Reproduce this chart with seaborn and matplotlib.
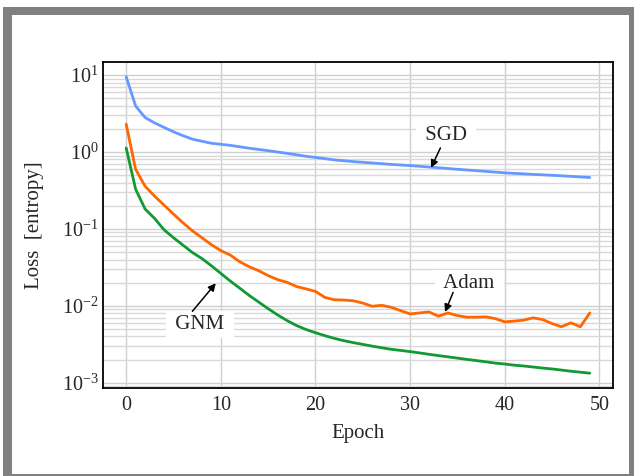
import numpy as np
import pandas as pd
import matplotlib
matplotlib.use("Agg")
import matplotlib.pyplot as plt
from matplotlib.patches import Rectangle
import seaborn as sns

# ---------------- data ----------------
epochs = list(range(50))

sgd_loss = [9.5, 3.96, 2.81, 2.39, 2.09, 1.83, 1.63, 1.47, 1.38, 1.30,
            1.26, 1.22, 1.17, 1.12, 1.08, 1.04, 1.00, 0.96, 0.92, 0.88,
            0.85, 0.82, 0.79, 0.77, 0.75, 0.735, 0.72, 0.705, 0.69, 0.678,
            0.666, 0.652, 0.638, 0.624, 0.61, 0.596, 0.584, 0.572, 0.56, 0.548,
            0.536, 0.528, 0.52, 0.512, 0.505, 0.498, 0.49, 0.482, 0.474, 0.466]

adam_loss = [2.30, 0.594, 0.359, 0.267, 0.204, 0.156, 0.120, 0.0945, 0.0768, 0.0624,
             0.0522, 0.0457, 0.0374, 0.0322, 0.0286, 0.0247, 0.0219, 0.0202, 0.0178, 0.0166,
             0.0154, 0.01286, 0.01198, 0.01188, 0.01163, 0.01086, 0.00985, 0.01015, 0.00957, 0.00865,
             0.00784, 0.00808, 0.00832, 0.00732, 0.00808, 0.00746, 0.00711, 0.00711, 0.00718, 0.00682,
             0.00619, 0.00632, 0.00651, 0.00697, 0.00663, 0.00588, 0.00534, 0.00601, 0.00534, 0.00808]

gnm_loss = [1.13, 0.328, 0.1814, 0.1369, 0.0974, 0.0768, 0.0615, 0.0493, 0.0412, 0.0332,
            0.0264, 0.0210, 0.01695, 0.01365, 0.01119, 0.00918, 0.00761, 0.00643, 0.00554, 0.00492,
            0.00447, 0.00409, 0.00377, 0.00352, 0.00332, 0.00315, 0.00299, 0.00285, 0.00272, 0.00263,
            0.00254, 0.00244, 0.00234, 0.00225, 0.00217, 0.00209, 0.00201, 0.00194, 0.00187, 0.00180,
            0.00175, 0.00169, 0.00165, 0.00160, 0.00155, 0.00151, 0.00146, 0.00141, 0.00137, 0.00133]

optimizers = ["SGD", "Adam", "GNM"]
colors = {"SGD": "#6699ff", "Adam": "#ff6600", "GNM": "#119933"}

df = pd.DataFrame({
    "Epoch": epochs * 3,
    "Loss": sgd_loss + adam_loss + gnm_loss,
    "Optimizer": ["SGD"] * 50 + ["Adam"] * 50 + ["GNM"] * 50,
})

# ---------------- style ----------------
sns.set_theme(style="white")
plt.rcParams["font.family"] = ["Liberation Serif", "DejaVu Serif"]
plt.rcParams["mathtext.fontset"] = "custom"
plt.rcParams["mathtext.rm"] = "Liberation Serif"
plt.rcParams["mathtext.it"] = "Liberation Serif:italic"
plt.rcParams["mathtext.bf"] = "Liberation Serif:bold"

W, H = 634, 476
fig = plt.figure(figsize=(W / 100, H / 100), dpi=100)
fig.patch.set_facecolor("white")

L, R, T, B = 103, 613, 62, 388
ax = fig.add_axes([L / W, 1 - B / H, (R - L) / W, (B - T) / H])

sns.lineplot(data=df, x="Epoch", y="Loss", hue="Optimizer", hue_order=optimizers,
             palette=colors, linewidth=2.0, legend=False, ax=ax, zorder=3)

ax.set_yscale("log")
ax.set_xticks([0, 10, 20, 30, 40, 50])

ax.grid(True, which="major", axis="both", color="#cfcfcf", linewidth=1.0, zorder=0)
ax.grid(True, which="minor", axis="y", color="#d9d9d9", linewidth=1.0, zorder=0)
ax.set_axisbelow(True)

ax.tick_params(which="both", length=0)
ax.tick_params(axis="x", labelsize=14.5, pad=6)
ax.tick_params(axis="y", labelsize=14.5, pad=3)

for s in ax.spines.values():
    s.set_color("black")
    s.set_linewidth(1.3)

ax.set_xlabel("Epoch", fontsize=15)
ax.set_ylabel("Loss  [entropy]", fontsize=15)
ax.yaxis.set_label_coords((44 - L) / (R - L), 0.5)
ax.xaxis.set_label_coords(0.5, (B - 424) / (B - T))

# ---------------- annotations ----------------
box = dict(boxstyle="square,pad=0.2", fc="white", ec="none")
arrow = dict(arrowstyle="-|>", color="black", lw=1.1, shrinkA=0, shrinkB=0,
             mutation_scale=11)

labels = [
    # text, text pos, arrow tail, arrow tip
    ("SGD", (33.81, 1.626), (33.21, 1.129), (32.22, 0.624)),
    ("Adam", (36.24, 0.01949), (34.55, 0.01492), (33.70, 0.00832)),
    ("GNM", (7.78, 0.00566), (7.0, 0.00849), (9.47, 0.01965)),
]
for txt, tpos, tail, tip in labels:
    ax.text(tpos[0], tpos[1], " " + txt + " ", fontsize=15, ha="center", va="center",
            bbox=box, zorder=4)
    ax.annotate("", xy=tip, xytext=tail, arrowprops=arrow, zorder=5)

# ---------------- gray frame ----------------
def frame_rect(x0, y0, x1, y1):
    fig.add_artist(Rectangle((x0 / W, 1 - y1 / H), (x1 - x0) / W, (y1 - y0) / H,
                             transform=fig.transFigure, facecolor="#808080",
                             edgecolor="none", zorder=10))

frame_rect(3, 7, 634, 15)     # top
frame_rect(3, 7, 12, 476)     # left
frame_rect(629, 7, 634, 476)  # right
frame_rect(3, 474, 634, 476)  # bottom

fig.savefig("out.png", dpi=100)
